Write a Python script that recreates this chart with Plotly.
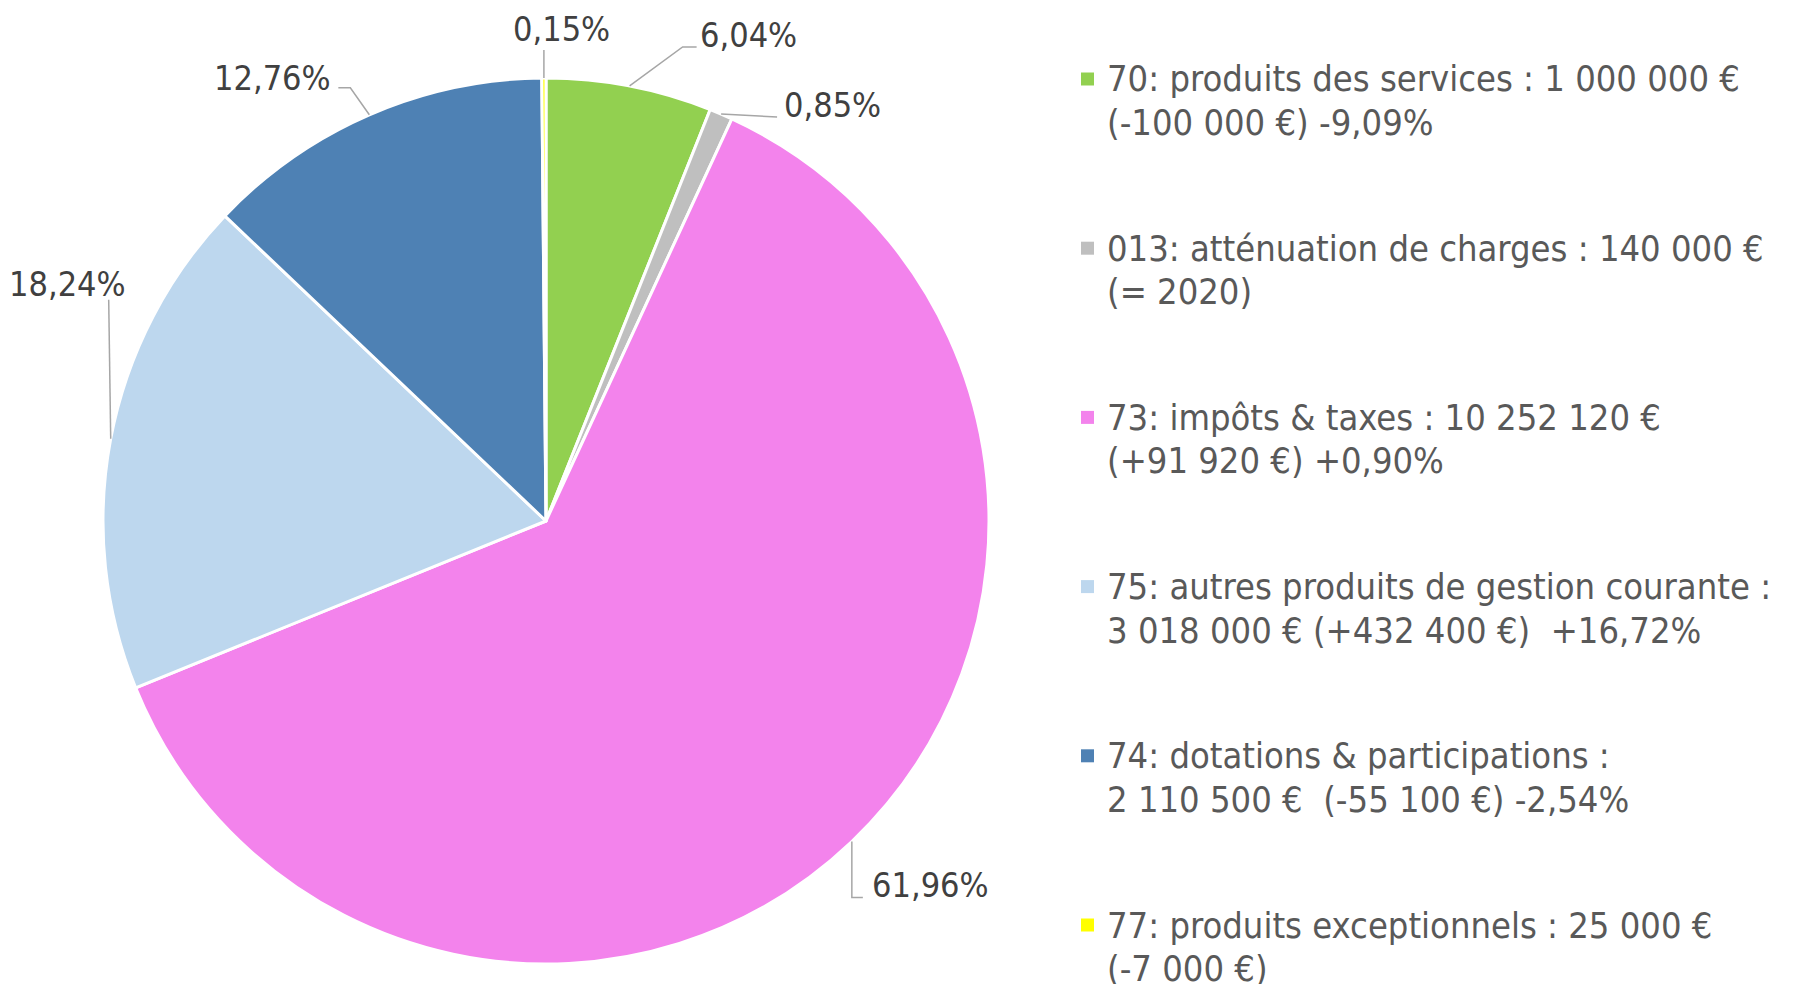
import math
import plotly.graph_objects as go

# ---------------- data ----------------
codes = ["70", "013", "73", "75", "74", "77"]
values = [1000000, 140000, 10252120, 3018000, 2110500, 25000]
legend_line1 = [
    "70: produits des services : 1 000 000 €",
    "013: atténuation de charges : 140 000 €",
    "73: impôts & taxes : 10 252 120 €",
    "75: autres produits de gestion courante :",
    "74: dotations & participations :",
    "77: produits exceptionnels : 25 000 €",
]
legend_line2 = [
    "(-100 000 €) -9,09%",
    "(= 2020)",
    "(+91 920 €) +0,90%",
    "3 018 000 € (+432 400 €)\u00a0 +16,72%",
    "2 110 500 €\u00a0 (-55 100 €) -2,54%",
    "(-7 000 €)",
]
colors = ["#92D050", "#BFBFBF", "#F383EC", "#BDD7EE", "#4E81B4", "#FFFF00"]

# ---------------- layout constants (pixels) ----------------
W, H = 1795, 984
PAGE_OFFSET = 8  # default body margin of the html page
CX, CY, R = 546, 521, 443
LABEL_FONT = "DejaVu Sans Condensed, Liberation Sans Narrow, sans-serif"
LEGEND_FONT = "DejaVu Sans Condensed, Liberation Sans Narrow, sans-serif"

# leader paths (relative to slice edge point) and label offsets/anchors
leader_paths = [
    [(0, 0), (53, -39), (67, -39)],
    [(0, 0), (56, 3)],
    [(0, 0), (0, 56), (11, 56)],
    [(0, 0), (-2, -139)],
    [(0, 0), (-19, -27), (-31, -27)],
    [(0, 0), (0, -28)],
]
label_offsets = [(68, -51), (61, -9), (18, 44), (-43, -155), (-36, -37), (18, -49)]
label_anchor = ["left", "left", "left", "center", "right", "center"]


def px(x):
    return (x - PAGE_OFFSET) / W


def py(y):
    return 1 - (y - PAGE_OFFSET) / H


total = sum(values)
pct_text = [f"{v / total * 100:.2f}".replace(".", ",") + "%" for v in values]

fig = go.Figure()
fig.add_trace(go.Pie(
    values=values,
    labels=codes,
    sort=False,
    direction="clockwise",
    rotation=0,
    textinfo="none",
    hoverinfo="label+percent",
    marker=dict(colors=colors, line=dict(color="white", width=3)),
    domain=dict(x=[px(CX - R), px(CX + R)], y=[py(CY + R), py(CY - R)]),
    showlegend=False,
))

shapes = []
annotations = []
cum = 0.0
for i, v in enumerate(values):
    mid = (cum + v / 2) / total
    cum += v
    theta = 2 * math.pi * mid
    ex = CX + R * math.sin(theta)
    ey = CY - R * math.cos(theta)
    pts = [(ex + dx, ey + dy) for dx, dy in leader_paths[i]]
    path = "M " + " L ".join(f"{px(a):.5f} {py(b):.5f}" for a, b in pts)
    shapes.append(dict(type="path", xref="paper", yref="paper", path=path,
                       line=dict(color="#A6A6A6", width=1.5)))
    lx, ly = ex + label_offsets[i][0], ey + label_offsets[i][1]
    annotations.append(dict(x=px(lx), y=py(ly), xref="paper", yref="paper",
                            text=pct_text[i], showarrow=False,
                            xanchor=label_anchor[i], yanchor="middle",
                            font=dict(family=LABEL_FONT, size=34, color="#404040")))

# custom legend
LEG_SQ_X0, LEG_SQ_SIZE, LEG_TEXT_X = 1081, 13, 1105
LEG_Y0, LEG_STEP, LEG_LINE = 79, 169.2, 43.5
for i in range(len(codes)):
    y1 = LEG_Y0 + i * LEG_STEP
    shapes.append(dict(type="rect", xref="paper", yref="paper",
                       x0=px(LEG_SQ_X0), x1=px(LEG_SQ_X0 + LEG_SQ_SIZE),
                       y0=py(y1 + LEG_SQ_SIZE / 2), y1=py(y1 - LEG_SQ_SIZE / 2),
                       fillcolor=colors[i], line=dict(width=0)))
    for k, txt in enumerate([legend_line1[i], legend_line2[i]]):
        annotations.append(dict(x=px(LEG_TEXT_X), y=py(y1 + k * LEG_LINE),
                                xref="paper", yref="paper", text=txt,
                                showarrow=False, xanchor="left", yanchor="middle",
                                font=dict(family=LEGEND_FONT, size=36, color="#595959")))

fig.update_layout(
    width=W, height=H,
    margin=dict(l=0, r=0, t=0, b=0),
    paper_bgcolor="white", plot_bgcolor="white",
    shapes=shapes, annotations=annotations,
)
fig.write_html("out.html")
